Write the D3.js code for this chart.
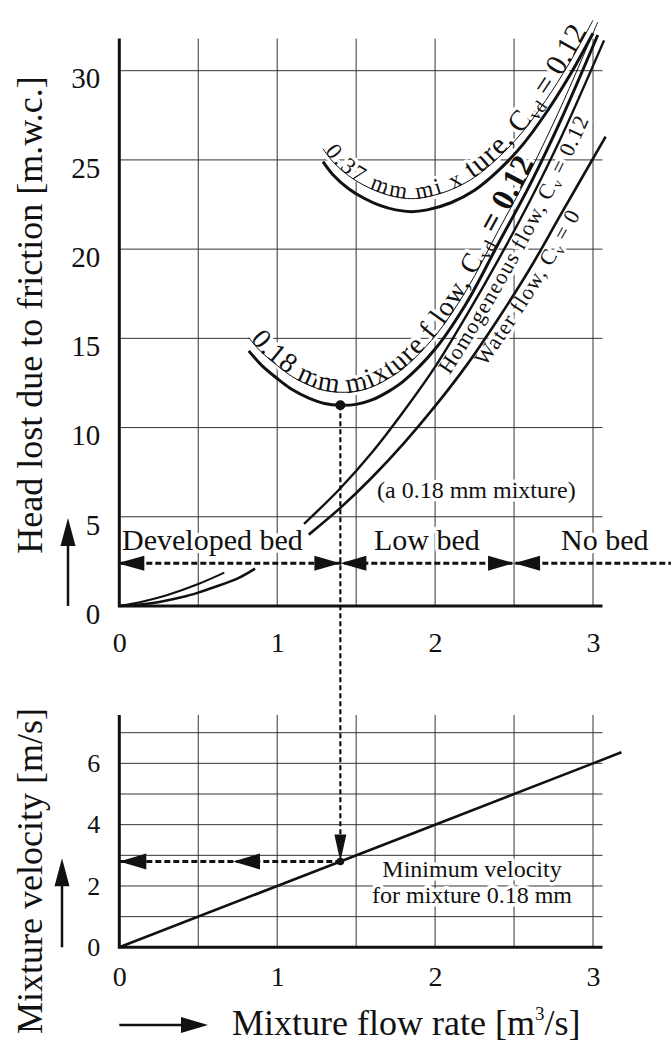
<!DOCTYPE html>
<html>
<head>
<meta charset="utf-8">
<script src="https://cdn.jsdelivr.net/npm/d3@7"></script>
<style>
body { margin: 0; background: #fff; }
</style>
</head>
<body>
<div id="canvas"></div>
<script>
// ticks and grid
const xTicks = [0, 1, 2, 3]
const xGrid = [0.5, 1, 1.5, 2, 2.5, 3]
const headTicks = [0, 5, 10, 15, 20, 25, 30]
const headGrid = [5, 10, 15, 20, 25, 30]
const velTicks = [0, 2, 4, 6]
const velGrid = [1, 2, 3, 4, 5, 6, 7]

// head loss curves (Q in m3/s, H in m.w.c.)
const waterLowQ = [0, 0.2, 0.4, 0.5, 0.6, 0.75, 0.86]
const waterLowH = [0, 0.15, 0.5, 0.75, 1.05, 1.55, 2.1]
const waterQ = [1.2, 1.4, 1.6, 1.8, 2.0, 2.2, 2.4, 2.6, 2.8, 3.08]
const waterH = [4.0, 5.5, 7.2, 9.1, 11.2, 13.5, 16.1, 18.9, 22.0, 26.3]
const homLowQ = [0, 0.15, 0.3, 0.5, 0.665]
const homLowH = [0, 0.25, 0.6, 1.23, 1.87]
const homQ = [1.17, 1.4, 1.6, 1.8, 2.0, 2.2, 2.4, 2.6, 2.8, 3.07]
const homH = [4.6, 6.6, 8.6, 10.9, 13.4, 16.3, 19.4, 22.7, 26.3, 31.7]
const mix18Q = [0.82, 0.9, 1.0, 1.1, 1.2, 1.3, 1.4, 1.5, 1.6, 1.7, 1.8, 2.0, 2.2, 2.4, 2.6, 2.8, 3.03]
const mix18H = [14.3, 13.5, 12.75, 12.1, 11.65, 11.35, 11.25, 11.3, 11.55, 12.0, 12.6, 14.4, 17.0, 20.3, 23.6, 27.3, 32.0]
const mix37Q = [1.29, 1.35, 1.45, 1.55, 1.65, 1.75, 1.85, 1.95, 2.1, 2.25, 2.4, 2.55, 2.7, 2.85, 3.0]
const mix37H = [24.9, 24.2, 23.4, 22.85, 22.45, 22.2, 22.1, 22.2, 22.6, 23.3, 24.4, 25.8, 27.6, 29.7, 32.1]

// mixture velocity vs flow rate
const velQ = [0, 1, 2, 3, 3.18]
const velV = [0, 2, 4, 6, 6.36]

// minimum point and bed regimes
const minQ = 1.4
const minH = 11.25
const minV = 2.8
const regimeBounds = [1.4, 2.5]
const regimeH = 2.4
const velArrowQ = 0.72

const zip = (a, b) => a.map((d, i) => [d, b[i]])
const serif = "'Liberation Serif', 'Times New Roman', serif"

const svg = d3.select("#canvas").append("svg")
    .attr("width", 671)
    .attr("height", 1046)
    .attr("font-family", serif)

const x = d3.scaleLinear().domain([0, 3]).range([119.3, 593])
const yH = d3.scaleLinear().domain([0, 30]).range([606, 70.7])
const yV = d3.scaleLinear().domain([0, 7]).range([947.3, 732.7])
const xEnd = 3.06, hTop = 31.8, vTop = 7.58

const defs = svg.append("defs")
const gGrid = svg.append("g").attr("stroke", "#333").attr("stroke-width", 1)
const gText = svg.append("g").attr("fill", "#111").attr("font-family", serif)
const gLines = svg.append("g").attr("fill", "none").attr("stroke", "#111")
const gTop = svg.append("g").attr("fill", "#111")

// grid
gGrid.selectAll(".vt").data(xGrid).enter().append("line")
    .attr("x1", d => x(d)).attr("x2", d => x(d))
    .attr("y1", yH(hTop)).attr("y2", yH(0))
gGrid.selectAll(".ht").data(headGrid).enter().append("line")
    .attr("x1", x(0)).attr("x2", x(xEnd))
    .attr("y1", d => yH(d)).attr("y2", d => yH(d))
gGrid.selectAll(".vb").data(xGrid).enter().append("line")
    .attr("x1", d => x(d)).attr("x2", d => x(d))
    .attr("y1", yV(vTop)).attr("y2", yV(0))
gGrid.selectAll(".hb").data(velGrid).enter().append("line")
    .attr("x1", x(0)).attr("x2", x(xEnd))
    .attr("y1", d => yV(d)).attr("y2", d => yV(d))

// labels over the grid get a white halo that breaks the grid lines
const halo = t => t.attr("stroke", "#fff").attr("stroke-width", 7)
    .attr("stroke-linejoin", "round").attr("paint-order", "stroke")

const lineH = (dx = 0, dy = 0) => d3.line()
    .x(d => x(d[0]) + dx).y(d => yH(d[1]) + dy)
    .curve(d3.curveCatmullRom.alpha(0.5))
const lineV = d3.line().x(d => x(d[0])).y(d => yV(d[1]))

// curves
gLines.append("path").attr("d", lineH()(zip(waterLowQ, waterLowH))).attr("stroke-width", 2.6)
gLines.append("path").attr("d", lineH()(zip(waterQ, waterH))).attr("stroke-width", 2.6)
gLines.append("path").attr("d", lineH()(zip(homLowQ, homLowH))).attr("stroke-width", 2)
gLines.append("path").attr("d", lineH()(zip(homQ, homH))).attr("stroke-width", 2.4)
gLines.append("path").attr("d", lineH()(zip(mix18Q, mix18H))).attr("stroke-width", 3)
gLines.append("path").attr("d", lineH()(zip(mix37Q, mix37H))).attr("stroke-width", 3)
gLines.append("path").attr("d", lineV(zip(velQ, velV))).attr("stroke-width", 2.6)

// label baselines for the curves
defs.append("path").attr("id", "p37").attr("d", lineH(0, -13)(zip(mix37Q, mix37H)))
defs.append("path").attr("id", "p18").attr("d", lineH(0, -13)(zip(mix18Q, mix18H)))
defs.append("path").attr("id", "phom").attr("d", lineH(20, 0)(zip(homQ, homH)))
defs.append("path").attr("id", "pwat").attr("d", lineH(20, 0)(zip(waterQ, waterH)))
gLines.append("path").attr("d", lineH(0, -13)(zip(mix37Q, mix37H))).attr("stroke-width", 1)
gLines.append("path").attr("d", lineH(0, -13)(zip(mix18Q, mix18H))).attr("stroke-width", 1)

// axes lines
gLines.append("path").attr("stroke-width", 3)
    .attr("d", `M${x(0)},${yH(hTop)}V${yH(0)}H${x(xEnd)}`)
gLines.append("path").attr("stroke-width", 3)
    .attr("d", `M${x(0)},${yV(vTop)}V${yV(0)}H${x(xEnd)}`)

// arrow heads
function head(tx, ty, dir, len = 26, half = 7.5) {
    const d = { left: [1, 0], right: [-1, 0], up: [0, 1], down: [0, -1] }[dir]
    const bx = tx + d[0] * len, by = ty + d[1] * len
    const px = d[1] * half, py = d[0] * half
    gTop.append("path")
        .attr("d", `M${tx},${ty}L${bx + px},${by + py}L${bx - px},${by - py}Z`)
}

// bed regime arrows
gLines.append("line")
    .attr("x1", x(0)).attr("x2", 671)
    .attr("y1", yH(regimeH)).attr("y2", yH(regimeH))
    .attr("stroke-width", 3).attr("stroke-dasharray", "6,3")
head(x(0) - 2, yH(regimeH), "left", 27)
regimeBounds.forEach(b => {
    head(x(b), yH(regimeH), "right", 26)
    head(x(b), yH(regimeH), "left", 26)
})

// minimum velocity projection
gLines.append("line")
    .attr("x1", x(minQ)).attr("x2", x(minQ))
    .attr("y1", yH(minH)).attr("y2", yV(minV) - 20)
    .attr("stroke-width", 2.2).attr("stroke-dasharray", "5,3")
head(x(minQ), yV(minV), "down", 27, 6)
gLines.append("line")
    .attr("x1", x(0)).attr("x2", x(minQ))
    .attr("y1", yV(minV)).attr("y2", yV(minV))
    .attr("stroke-width", 3).attr("stroke-dasharray", "6,3")
head(x(0), yV(minV), "left", 27, 8)
head(x(velArrowQ), yV(minV), "left", 27, 8)
gTop.append("circle").attr("cx", x(minQ)).attr("cy", yH(minH)).attr("r", 5)
gTop.append("circle").attr("cx", x(minQ)).attr("cy", yV(minV)).attr("r", 3.8)

// axis arrows
gLines.append("line").attr("x1", 68).attr("x2", 68)
    .attr("y1", yH(0)).attr("y2", yH(0) - 70).attr("stroke-width", 2.5)
head(68, yH(0) - 88, "up", 28, 7.5)
gLines.append("line").attr("x1", 62).attr("x2", 62)
    .attr("y1", yV(0)).attr("y2", yV(0) - 70).attr("stroke-width", 2.5)
head(62, yV(0) - 89, "up", 28, 7.5)
gLines.append("line").attr("x1", x(0)).attr("x2", 185)
    .attr("y1", 1025).attr("y2", 1025).attr("stroke-width", 2.5)
head(208, 1025, "right", 27, 8)

// tick labels through d3 axes
function styleAxis(g, size) {
    g.select(".domain").remove()
    g.attr("font-size", size).attr("font-family", serif)
    g.selectAll("text").attr("fill", "#111")
}
const fmt = d3.format("d")
svg.append("g").attr("transform", `translate(${x(0)},0)`)
    .call(d3.axisLeft(yH).tickValues(headTicks).tickSize(0).tickPadding(19).tickFormat(fmt))
    .call(g => styleAxis(g, 29))
    .call(g => g.selectAll("text").attr("y", 8))
svg.append("g").attr("transform", `translate(0,${yH(0)})`)
    .call(d3.axisBottom(x).tickValues(xTicks).tickSize(0).tickPadding(26).tickFormat(fmt))
    .call(g => styleAxis(g, 28))
svg.append("g").attr("transform", `translate(${x(0)},0)`)
    .call(d3.axisLeft(yV).tickValues(velTicks).tickSize(0).tickPadding(19).tickFormat(fmt))
    .call(g => styleAxis(g, 26))
svg.append("g").attr("transform", `translate(0,${yV(0)})`)
    .call(d3.axisBottom(x).tickValues(xTicks).tickSize(0).tickPadding(19).tickFormat(fmt))
    .call(g => styleAxis(g, 28))

// axis titles
gTop.append("text").attr("transform", "translate(42,315) rotate(-90)")
    .attr("text-anchor", "middle").attr("font-size", 36)
    .text("Head lost due to friction [m.w.c.]")
gTop.append("text").attr("transform", "translate(42,871) rotate(-90)")
    .attr("text-anchor", "middle").attr("font-size", 36)
    .text("Mixture velocity [m/s]")
const xt = gTop.append("text").attr("x", 232).attr("y", 1035).attr("font-size", 36)
xt.append("tspan").text("Mixture flow rate [m")
xt.append("tspan").attr("font-size", 19).attr("dy", -15).text("3")
xt.append("tspan").attr("dy", 15).text("/s]")

// regime and note texts
halo(gText.append("text").attr("x", 122).attr("y", 550).attr("font-size", 30).text("Developed bed"))
halo(gText.append("text").attr("x", 374).attr("y", 550).attr("font-size", 30).text("Low bed"))
halo(gText.append("text").attr("x", 561).attr("y", 550).attr("font-size", 30).text("No bed"))
halo(gText.append("text").attr("x", 377).attr("y", 498).attr("font-size", 24).text("(a 0.18 mm mixture)"))
halo(gText.append("text").attr("x", 472).attr("y", 877).attr("font-size", 24)
    .attr("text-anchor", "middle").text("Minimum velocity"))
halo(gText.append("text").attr("x", 472).attr("y", 903).attr("font-size", 24)
    .attr("text-anchor", "middle").text("for mixture 0.18 mm"))

// curve labels along the curves
let t, tp
t = halo(gText.append("text"))
tp = t.append("textPath").attr("href", "#p37").attr("startOffset", 3)
tp.append("tspan").attr("font-size", 23).attr("letter-spacing", 2.5).text("0.37 mm mi x ")
tp.append("tspan").attr("font-size", 29).attr("letter-spacing", 1).text("ture, C")
tp.append("tspan").attr("font-size", 18).attr("dy", 5).text("vd")
tp.append("tspan").attr("font-size", 30).attr("dy", -5).text(" = 0.12")

t = halo(gText.append("text"))
tp = t.append("textPath").attr("href", "#p18").attr("startOffset", 2)
tp.append("tspan").attr("font-size", 28).attr("letter-spacing", 1).text("0.18 mm mixture f low, C")
tp.append("tspan").attr("font-size", 18).attr("dy", 5).text("vd")
tp.append("tspan").attr("font-size", 32).attr("font-weight", "bold").attr("dy", -5).text(" = 0.12")

t = halo(gText.append("text"))
tp = t.append("textPath").attr("href", "#phom").attr("startOffset", 195)
tp.append("tspan").attr("font-size", 22).attr("letter-spacing", 1).text("Homogeneous flow, C")
tp.append("tspan").attr("font-size", 14).attr("dy", 4).text("v")
tp.append("tspan").attr("font-size", 22).attr("dy", -4).attr("letter-spacing", 1).text(" = 0.12")

t = halo(gText.append("text"))
tp = t.append("textPath").attr("href", "#pwat").attr("startOffset", 230)
tp.append("tspan").attr("font-size", 22).attr("letter-spacing", 1).text("Water flow, C")
tp.append("tspan").attr("font-size", 14).attr("dy", 4).text("v")
tp.append("tspan").attr("font-size", 22).attr("dy", -4).attr("letter-spacing", 1).text(" = 0")
</script>
</body>
</html>
